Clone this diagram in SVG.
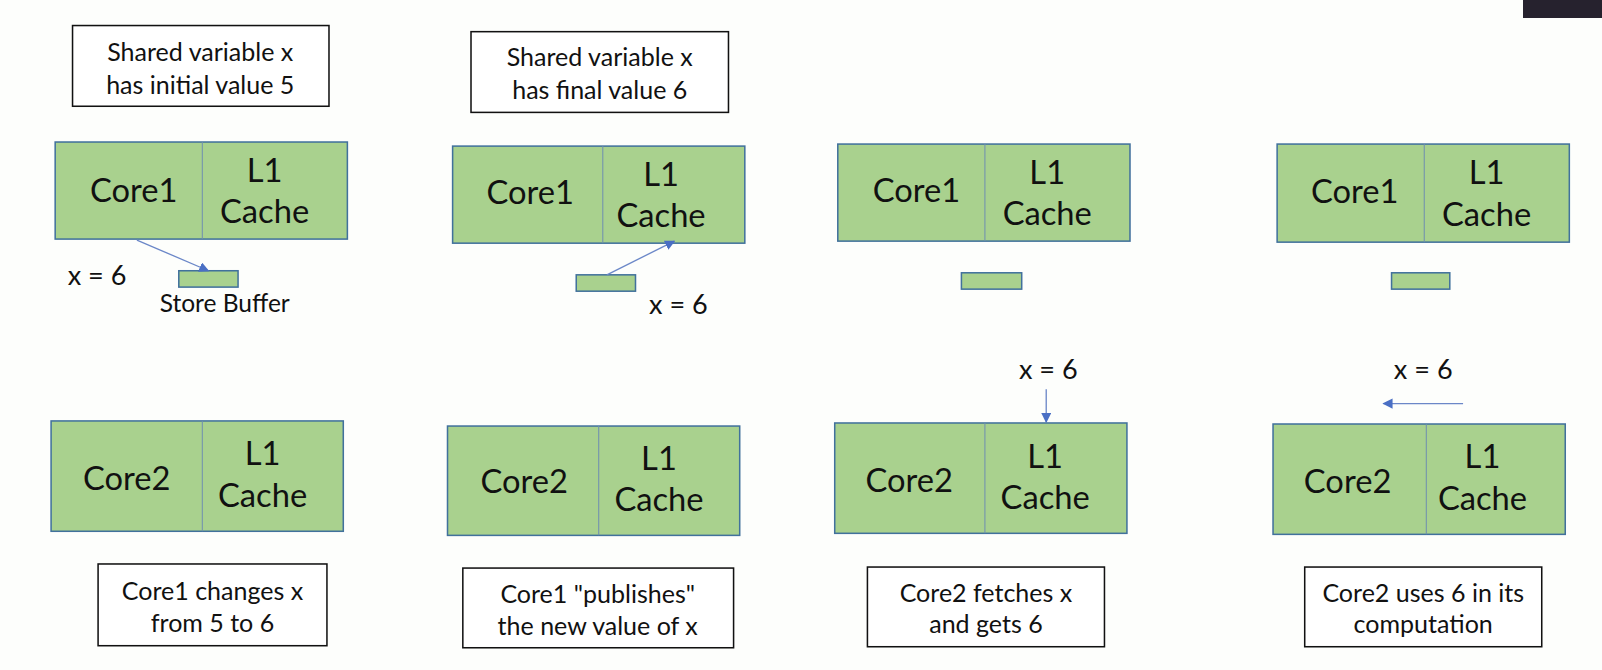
<svg xmlns="http://www.w3.org/2000/svg" width="1602" height="670" viewBox="0 0 1602 670">
<style>
.bg{fill:#fdfefc}
.cell{fill:#a9d18e;stroke:#41719c;stroke-width:1.5}
.div{stroke:#6f8fb0;stroke-width:1}
.box{fill:#ffffff;stroke:#111111;stroke-width:1.5}
.t{font-family:Lato,"Open Sans",sans-serif;fill:#111111;text-anchor:middle}
.big{font-size:32px}
.mid{font-size:24.5px}
.lbl{font-size:26.5px}
.small{font-size:24px}
.con{stroke:#6b87c8;stroke-width:1.3;fill:none;marker-end:url(#ah)}
</style>
<defs>
<marker id="ah" viewBox="0 0 10 10" refX="9" refY="5" markerWidth="10" markerHeight="10" markerUnits="userSpaceOnUse" orient="auto">
<path d="M0,0 L10,5 L0,10 z" fill="#4a6fc4"/>
</marker>
</defs>
<rect class="bg" x="0" y="0" width="1602" height="670"/>
<rect x="1523" y="0" width="79" height="18" fill="#26222e"/>
<g transform="scale(1.0217)">
<g id="note1"><rect class="box" x="71" y="25" width="251" height="79"/>
<text class="t mid" x="196" y="60">Shared variable x</text>
<text class="t mid" x="196" y="92">has initial value 5</text></g>
<g id="note2"><rect class="box" x="461" y="31" width="252" height="79"/>
<text class="t mid" x="587" y="65">Shared variable x</text>
<text class="t mid" x="587" y="97">has final value 6</text></g>

<g id="c1a"><rect class="cell" x="54" y="139" width="286" height="95"/><line class="div" x1="198" y1="139" x2="198" y2="234"/>
<text class="t big" x="131" y="198">Core1</text><text class="t big" x="259" y="178">L1</text><text class="t big" x="259" y="218">Cache</text></g>
<g id="c2a"><rect class="cell" x="50" y="412" width="286" height="108"/><line class="div" x1="198" y1="412" x2="198" y2="520"/>
<text class="t big" x="124" y="480">Core2</text><text class="t big" x="257" y="455">L1</text><text class="t big" x="257" y="496">Cache</text></g>
<g id="sb1"><rect class="cell" x="175" y="265" width="58" height="16"/></g>
<text class="t lbl" x="95" y="279">x = 6</text>
<text class="t small" x="220" y="305">Store Buffer</text>

<g id="c1b"><rect class="cell" x="443" y="143" width="286" height="95"/><line class="div" x1="590" y1="143" x2="590" y2="238"/>
<text class="t big" x="519" y="200">Core1</text><text class="t big" x="647" y="182">L1</text><text class="t big" x="647" y="222">Cache</text></g>
<g id="c2b"><rect class="cell" x="438" y="417" width="286" height="107"/><line class="div" x1="586" y1="417" x2="586" y2="524"/>
<text class="t big" x="513" y="483">Core2</text><text class="t big" x="645" y="460">L1</text><text class="t big" x="645" y="500">Cache</text></g>
<g id="sb2"><rect class="cell" x="564" y="269" width="58" height="16"/></g>
<text class="t lbl" x="664" y="307">x = 6</text>

<g id="c1c"><rect class="cell" x="820" y="141" width="286" height="95"/><line class="div" x1="964" y1="141" x2="964" y2="236"/>
<text class="t big" x="897" y="198">Core1</text><text class="t big" x="1025" y="180">L1</text><text class="t big" x="1025" y="220">Cache</text></g>
<g id="c2c"><rect class="cell" x="817" y="414" width="286" height="108"/><line class="div" x1="964" y1="414" x2="964" y2="522"/>
<text class="t big" x="890" y="482">Core2</text><text class="t big" x="1023" y="458">L1</text><text class="t big" x="1023" y="498">Cache</text></g>
<g id="sb3"><rect class="cell" x="941" y="267" width="59" height="16"/></g>
<text class="t lbl" x="1026" y="371">x = 6</text>

<g id="c1d"><rect class="cell" x="1250" y="141" width="286" height="96"/><line class="div" x1="1394" y1="141" x2="1394" y2="237"/>
<text class="t big" x="1326" y="199">Core1</text><text class="t big" x="1455" y="180">L1</text><text class="t big" x="1455" y="221">Cache</text></g>
<g id="c2d"><rect class="cell" x="1246" y="415" width="286" height="108"/><line class="div" x1="1396" y1="415" x2="1396" y2="523"/>
<text class="t big" x="1319" y="483">Core2</text><text class="t big" x="1451" y="458">L1</text><text class="t big" x="1451" y="499">Cache</text></g>
<g id="sb4"><rect class="cell" x="1362" y="267" width="57" height="16"/></g>
<text class="t lbl" x="1393" y="371">x = 6</text>

<g id="note3"><rect class="box" x="96" y="552" width="224" height="80"/>
<text class="t mid" x="208" y="587">Core1 changes x</text><text class="t mid" x="208" y="619">from 5 to 6</text></g>
<g id="note4"><rect class="box" x="453" y="556" width="265" height="78"/>
<text class="t mid" x="585" y="590">Core1 "publishes"</text><text class="t mid" x="585" y="622">the new value of x</text></g>
<g id="note5"><rect class="box" x="849" y="555" width="232" height="78"/>
<text class="t mid" x="965" y="589">Core2 fetches x</text><text class="t mid" x="965" y="620">and gets 6</text></g>
<g id="note6"><rect class="box" x="1277" y="555" width="232" height="78"/>
<text class="t mid" x="1393" y="589">Core2 uses 6 in its</text><text class="t mid" x="1393" y="620">computation</text></g>

<g id="connectors">
<line class="con" x1="134" y1="235" x2="204" y2="265"/>
<line class="con" x1="594" y1="269" x2="660" y2="236"/>
<line class="con" x1="1024" y1="381" x2="1024" y2="413"/>
<line class="con" x1="1432" y1="395" x2="1354" y2="395"/>
</g>
</g>
</svg>
